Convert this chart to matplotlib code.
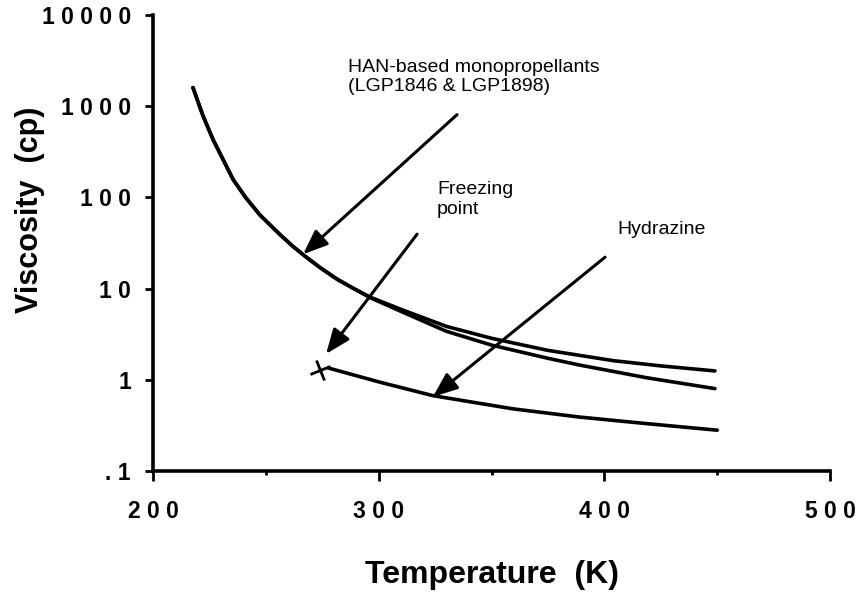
#!/usr/bin/env python
# coding:utf-8
"""plot.py - viscosity vs temperature for HAN-based monopropellants and hydrazine"""

import matplotlib
matplotlib.use('Agg')
import matplotlib.pyplot as plt
from matplotlib.markers import MarkerStyle
from matplotlib.transforms import Affine2D
from matplotlib.ticker import FixedLocator, NullLocator

# data
lgp_a_temp = [217.7, 222, 226.6, 235.5, 241, 247.4, 256.3, 262, 267.4, 274,
              281.5, 288, 296, 310, 330, 350, 375, 404, 425, 449]
lgp_a_visc = [1600, 800, 430, 157, 100, 64, 39, 29, 22.6, 17,
              12.7, 10.3, 8.1, 5.9, 3.85, 2.85, 2.1, 1.62, 1.42, 1.25]

lgp_b_temp = [217.7, 222, 226.6, 235.5, 241, 247.4, 256.3, 262, 267.4, 274,
              281.5, 288, 296, 310, 330, 350, 375, 389, 419, 449]
lgp_b_visc = [1600, 800, 430, 157, 100, 64, 39, 29, 22.6, 17,
              12.7, 10.3, 8.0, 5.6, 3.4, 2.4, 1.72, 1.45, 1.05, 0.80]

hyd_temp = [277.5, 300.6, 324, 359.5, 389, 419, 450]
hyd_visc = [1.35, 0.94, 0.67, 0.48, 0.39, 0.33, 0.28]

freeze_temp = 274
freeze_visc = 1.28

y_ticks = [0.1, 1, 10, 100, 1000, 10000]
y_tick_labels = ['. 1', '1', '1 0', '1 0 0', '1 0 0 0', '1 0 0 0 0']
x_ticks = [200, 300, 400, 500]
x_tick_labels = ['2 0 0', '3 0 0', '4 0 0', '5 0 0']
x_minor_ticks = [250, 350, 450]

# (text, text pos, arrow tail, arrow tip)
notes = [
    ('HAN-based monopropellants\n(LGP1846 & LGP1898)', (286.4, 3300),
     (334.7, 807), (266.5, 23.8)),
    ('Freezing\npoint', (325.8, 150), (317, 39.5), (276.7, 1.92)),
    ('Hydrazine', (405.6, 55), (400.3, 22.1), (324, 0.65)),
]


def main():
    plt.rcParams['font.family'] = ['Liberation Sans', 'DejaVu Sans']
    fig = plt.figure(figsize=(8.67, 5.97), dpi=100)
    ax = fig.add_axes([0.1765, 0.2111, 0.7809, 0.7638])

    ax.set_yscale('log')
    ax.set_xlim(200, 500)
    ax.set_ylim(0.1, 10000)

    line_kw = dict(color='black', lw=2.6, solid_capstyle='round',
                   solid_joinstyle='round')
    ax.plot(lgp_a_temp, lgp_a_visc, **line_kw)
    ax.plot(lgp_b_temp, lgp_b_visc, **line_kw)
    ax.plot(hyd_temp, hyd_visc, **line_kw)

    cross = MarkerStyle('+', transform=Affine2D().rotate_deg(20))
    ax.plot([freeze_temp], [freeze_visc], marker=cross, ms=15, mew=2,
            color='black', ls='none')

    for text, tpos, tail, tip in notes:
        ax.text(tpos[0], tpos[1], text, fontsize=14, ha='left', va='top',
                linespacing=1.2)
        ax.annotate('', xy=tip, xytext=tail,
                    arrowprops=dict(arrowstyle='-|>,head_length=1.5,head_width=0.6',
                                    color='black', lw=2.2,
                                    shrinkA=0, shrinkB=0))

    for side in ('top', 'right'):
        ax.spines[side].set_visible(False)
    for side in ('left', 'bottom'):
        ax.spines[side].set_linewidth(2.6)

    ax.yaxis.set_major_locator(FixedLocator(y_ticks))
    ax.yaxis.set_minor_locator(NullLocator())
    ax.set_yticklabels(y_tick_labels)
    ax.xaxis.set_major_locator(FixedLocator(x_ticks))
    ax.xaxis.set_minor_locator(FixedLocator(x_minor_ticks))
    ax.set_xticklabels(x_tick_labels)

    ax.tick_params(axis='y', which='major', direction='out', length=6,
                   width=2, pad=10)
    ax.tick_params(axis='x', which='major', direction='out', length=7,
                   width=2, pad=14)
    ax.tick_params(axis='x', which='minor', direction='out', length=3,
                   width=2)
    for lab in ax.get_xticklabels() + ax.get_yticklabels():
        lab.set_fontsize(16.5)
        lab.set_fontweight('bold')

    ax.set_xlabel('Temperature  (K)', fontsize=23, fontweight='bold')
    ax.set_ylabel('Viscosity  (cp)', fontsize=22, fontweight='bold')
    ax.xaxis.set_label_coords(0.5, -0.195)
    ax.yaxis.set_label_coords(-0.16, 0.572)

    fig.savefig('out.png', dpi=100)
    plt.close(fig)


if __name__ == '__main__':
    main()
